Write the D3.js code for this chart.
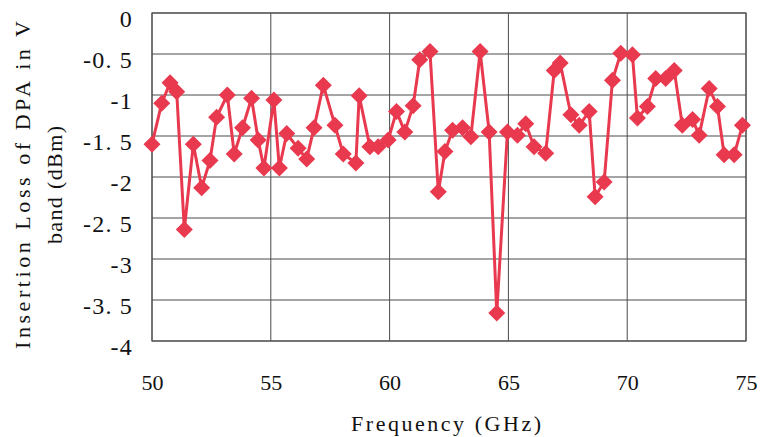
<!DOCTYPE html>
<html>
<head>
<meta charset="utf-8">
<script src="https://cdn.jsdelivr.net/npm/d3@7"></script>
<style>
  body { margin: 0; background: #fff; }
  svg { display: block; font-family: "Liberation Serif", "DejaVu Serif", serif; }
</style>
</head>
<body>
<div id="chart"></div>
<script>
// values
const freq = [50, 50.41, 50.76, 51.04, 51.36, 51.74, 52.09, 52.44, 52.72, 53.17,
  53.46, 53.81, 54.19, 54.47, 54.71, 55.13, 55.36, 55.67, 56.15, 56.51,
  56.82, 57.21, 57.7, 58.05, 58.58, 58.72, 59.17, 59.52, 59.94, 60.29,
  60.64, 60.99, 61.27, 61.7, 62.05, 62.33, 62.65, 63.07, 63.42, 63.81,
  64.19, 64.51, 64.96, 65.38, 65.73, 66.08, 66.57, 66.93, 67.18, 67.63,
  67.98, 68.4, 68.65, 69.03, 69.38, 69.73, 70.22, 70.43, 70.85, 71.2,
  71.62, 71.98, 72.32, 72.75, 73.03, 73.45, 73.8, 74.08, 74.5, 74.85];
const loss = [-1.6, -1.1, -0.85, -0.96, -2.64, -1.6, -2.13, -1.8, -1.27, -1.0,
  -1.72, -1.4, -1.04, -1.55, -1.89, -1.06, -1.89, -1.47, -1.65, -1.78,
  -1.4, -0.88, -1.37, -1.72, -1.83, -1.01, -1.63, -1.63, -1.55, -1.2,
  -1.45, -1.13, -0.57, -0.47, -2.18, -1.69, -1.43, -1.4, -1.51, -0.47,
  -1.45, -3.66, -1.45, -1.49, -1.35, -1.63, -1.71, -0.7, -0.61, -1.24,
  -1.37, -1.2, -2.24, -2.06, -0.82, -0.49, -0.51, -1.28, -1.14, -0.8,
  -0.8, -0.7, -1.37, -1.3, -1.49, -0.92, -1.14, -1.73, -1.73, -1.37];
const xTicks = [50, 55, 60, 65, 70, 75];
const yTicks = [0, -0.5, -1, -1.5, -2, -2.5, -3, -3.5, -4];
const yTickLabels = ["0", "-0. 5", "-1", "-1. 5", "-2", "-2. 5", "-3", "-3. 5", "-4"];

const width = 760, height = 437;
const red = "#e8394f";

const svg = d3.select("#chart").append("svg")
  .attr("width", width)
  .attr("height", height);

// plot frame in pixels
const x = d3.scaleLinear().domain([50, 75]).range([152, 746]);
const y = d3.scaleLinear().domain([-4, 0]).range([341, 13]);

// grid
const grid = svg.append("g").attr("stroke", "#4a4a4a").attr("stroke-width", 1);
grid.selectAll(".vg").data(xTicks).join("line")
  .attr("x1", d => x(d)).attr("x2", d => x(d))
  .attr("y1", y(0)).attr("y2", y(-4));
grid.selectAll(".hg").data(yTicks).join("line")
  .attr("x1", x(50)).attr("x2", x(75))
  .attr("y1", d => y(d)).attr("y2", d => y(d));
svg.append("rect")
  .attr("x", x(50)).attr("y", y(0))
  .attr("width", x(75) - x(50)).attr("height", y(-4) - y(0))
  .attr("fill", "none").attr("stroke", "#555").attr("stroke-width", 1.2);

// axes (labels only, the grid does the lines)
const xAxis = svg.append("g")
  .attr("transform", `translate(0,${y(-4)})`)
  .call(d3.axisBottom(x).tickValues(xTicks).tickSize(0).tickPadding(33).tickFormat(d3.format("d")));
const yAxis = svg.append("g")
  .attr("transform", `translate(${x(50)},0)`)
  .call(d3.axisLeft(y).tickValues(yTicks).tickSize(0).tickPadding(19)
    .tickFormat((d, i) => yTickLabels[i]));
[xAxis, yAxis].forEach(a => {
  a.select(".domain").remove();
  a.attr("font-family", null);
  a.selectAll("text")
    .attr("font-family", "Liberation Serif, serif")
    .attr("font-size", 22)
    .attr("fill", "#111");
});
yAxis.selectAll("text")
  .attr("font-size", 24)
  .attr("letter-spacing", 1.2)
  .attr("dy", "0.58em");

// series
const line = d3.line().x((d, i) => x(freq[i])).y(d => y(d));
svg.append("path")
  .datum(loss)
  .attr("d", line)
  .attr("fill", "none")
  .attr("stroke", red)
  .attr("stroke-width", 3)
  .attr("stroke-linejoin", "round");

svg.append("g").selectAll("path").data(loss).join("path")
  .attr("transform", (d, i) => `translate(${x(freq[i])},${y(d)})`)
  .attr("d", "M0,-8.5L8.5,0L0,8.5L-8.5,0Z")
  .attr("fill", red);

// axis titles
svg.append("text")
  .attr("x", 446).attr("y", 431)
  .attr("text-anchor", "middle")
  .attr("font-size", 22)
  .attr("fill", "#111")
  .attr("textLength", 190).attr("lengthAdjust", "spacing")
  .text("Frequency (GHz)");

const yt = svg.append("g").attr("transform", "translate(0,185) rotate(-90)");
yt.append("text")
  .attr("x", 0).attr("y", 30)
  .attr("text-anchor", "middle")
  .attr("font-size", 22)
  .attr("fill", "#111")
  .attr("textLength", 328).attr("lengthAdjust", "spacing")
  .text("Insertion Loss of DPA in V");
yt.append("text")
  .attr("x", 0).attr("y", 62)
  .attr("text-anchor", "middle")
  .attr("font-size", 22)
  .attr("fill", "#111")
  .attr("textLength", 118).attr("lengthAdjust", "spacing")
  .text("band (dBm)");
</script>
</body>
</html>
